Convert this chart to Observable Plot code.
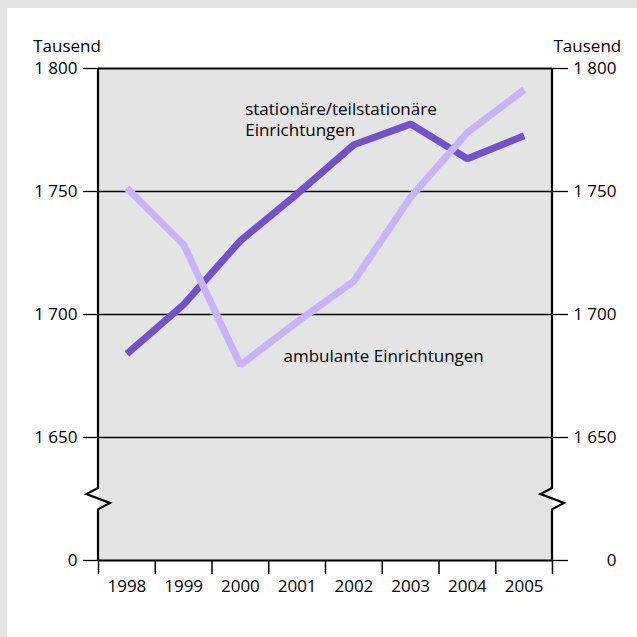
<!DOCTYPE html>
<html>
<head>
<meta charset="utf-8">
<script src="https://cdn.jsdelivr.net/npm/d3@7"></script>
<script src="https://cdn.jsdelivr.net/npm/@observablehq/plot@0.6"></script>
<style>
  html, body { margin: 0; padding: 0; width: 637px; height: 637px; overflow: hidden; background: #e4e4e4; }
  #panel { position: absolute; left: 7px; top: 8px; right: 0; bottom: 0; background: #ffffff; }
  #chart { position: absolute; left: 0; top: 0; }
</style>
</head>
<body>
<div id="panel"></div>
<div id="chart"></div>
<script>
// Data (Tausend)
const years = ["1998", "1999", "2000", "2001", "2002", "2003", "2004", "2005"];
const stationaer = [1684, 1704, 1730, 1749, 1769, 1777.4, 1763.3, 1772.7];
const ambulant = [1751.4, 1728.4, 1679.5, 1697, 1713.6, 1747.7, 1774, 1791.4];

// Broken y axis: the scale position 1600 stands for the value 0 below the break
const yTicks = [1600, 1650, 1700, 1750, 1800];
const yTickLabels = ["0", "1 650", "1 700", "1 750", "1 800"];
const gridValues = [1650, 1700, 1750];
const breakValue = 1625;

const seriesLabels = ["stationäre/teilstationäre\nEinrichtungen", "ambulante Einrichtungen"];
const unitLabel = "Tausend";

const darkColor = "#7350cc";
const lightColor = "#c8b4fc";
const font = "'Open Sans', sans-serif";
const fs = 17;

function frameSides(index, scales) {
  const {x, y} = scales;
  const g = d3.create("svg:g")
    .attr("fill", "none")
    .attr("stroke", "#000")
    .attr("stroke-width", 2.2)
    .attr("stroke-linejoin", "miter");
  const yc = y(breakValue);
  for (const x0 of [x(0), x(years.length)]) {
    const pts = [
      [x0, y(1800)],
      [x0, yc - 10.5],
      [x0 - 11.5, yc - 4.5],
      [x0 + 12, yc + 4.5],
      [x0, yc + 10.8],
      [x0, y(1600)]
    ];
    g.append("path").attr("d", d3.line()(pts));
  }
  return g.node();
}

const chart = Plot.plot({
  width: 637,
  height: 637,
  marginLeft: 98,
  marginRight: 85,
  marginTop: 68,
  marginBottom: 77,
  style: { background: "transparent", fontFamily: font, fontSize: fs + "px", color: "#000", overflow: "visible" },
  x: { type: "linear", domain: [0, years.length], axis: null },
  y: { type: "linear", domain: [1600, 1800], axis: null },
  marks: [
    Plot.frame({ fill: "#e4e4e4", stroke: null }),
    Plot.ruleY(gridValues, { stroke: "#000", strokeWidth: 1.3 }),
    Plot.ruleY([1800], { stroke: "#000", strokeWidth: 2.2 }),
    // left axis
    Plot.axisY({
      anchor: "left", ticks: yTicks,
      tickFormat: d => yTickLabels[yTicks.indexOf(d)],
      tickSize: 15, tickPadding: 6, fontSize: fs, strokeWidth: 1.3, label: null
    }),
    // right axis ticks
    Plot.axisY({
      anchor: "right", ticks: yTicks, tickFormat: () => "",
      tickSize: 15, strokeWidth: 1.3, label: null
    }),
    // right axis labels (right-aligned)
    Plot.text(yTicks, {
      x: years.length, y: d => d, text: (d, i) => yTickLabels[i],
      textAnchor: "end", dx: 64, fontSize: fs
    }),
    // x axis ticks at category boundaries
    Plot.axisX({
      anchor: "bottom", ticks: d3.range(years.length + 1), tickFormat: () => "",
      tickSize: 14, strokeWidth: 1.5, label: null
    }),
    // x labels at category centres
    Plot.text(years, {
      x: (d, i) => i + 0.5, y: 1600, text: d => d,
      lineAnchor: "top", dy: 19.6, fontSize: fs
    }),
    Plot.ruleY([1600], { stroke: "#000", strokeWidth: 2.2 }),
    frameSides,
    // unit labels
    Plot.text([unitLabel], { x: 0, y: 1800, text: d => d, textAnchor: "start", dx: -65.3, dy: -21.7, fontSize: fs }),
    Plot.text([unitLabel], { x: years.length, y: 1800, text: d => d, textAnchor: "start", dx: 1, dy: -21.7, fontSize: fs }),
    // series
    Plot.line(stationaer, {
      x: (d, i) => i + 0.5, y: d => d,
      stroke: darkColor, strokeWidth: 7, strokeLinecap: "butt", strokeLinejoin: "miter"
    }),
    Plot.line(ambulant, {
      x: (d, i) => i + 0.5, y: d => d,
      stroke: lightColor, strokeWidth: 7, strokeLinecap: "butt", strokeLinejoin: "miter"
    }),
    // series labels
    Plot.text([seriesLabels[0]], {
      x: 2.585, y: 1787.4, text: d => d, textAnchor: "start",
      lineAnchor: "top", lineHeight: 1.265, fontSize: fs
    }),
    Plot.text([seriesLabels[1]], {
      x: 3.26, y: 1685.5, text: d => d, textAnchor: "start",
      lineAnchor: "top", fontSize: fs
    })
  ]
});

document.getElementById("chart").appendChild(chart);
</script>
</body>
</html>
